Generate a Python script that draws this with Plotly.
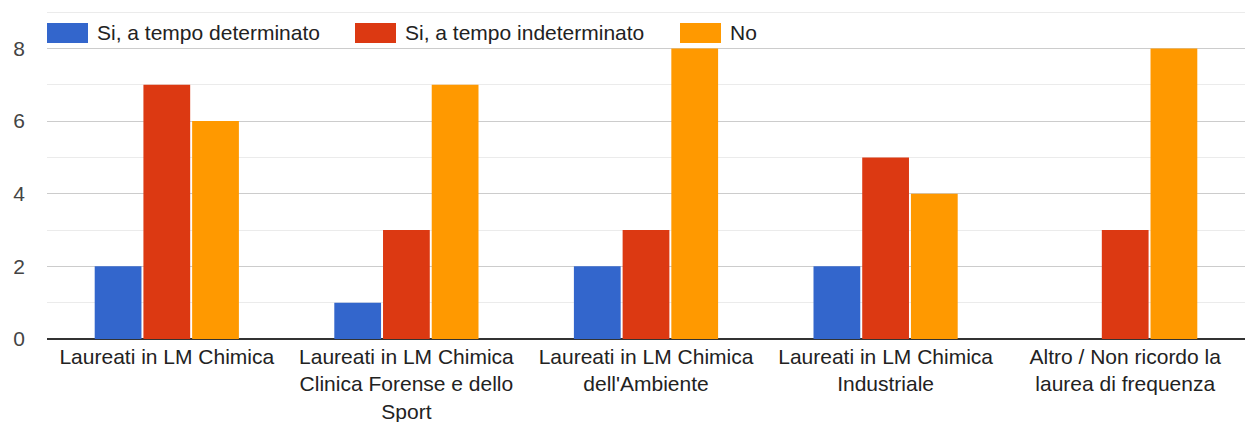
import plotly.graph_objects as go

categories = [
    "Laureati in LM Chimica",
    "Laureati in LM Chimica<br>Clinica Forense e dello<br>Sport",
    "Laureati in LM Chimica<br>dell'Ambiente",
    "Laureati in LM Chimica<br>Industriale",
    "Altro / Non ricordo la<br>laurea di frequenza",
]
series_names = ["Si, a tempo determinato", "Si, a tempo indeterminato", "No"]
determinato = [2, 1, 2, 2, 0]
indeterminato = [7, 3, 3, 5, 3]
no_values = [6, 7, 8, 4, 8]
colors = ["#3366cc", "#dc3912", "#ff9900"]

W, H = 1245, 422
ML, MR, MT, MB = 47, 0, 11, 83
Y_MAX = 9.03
FONT = "Liberation Sans, Arial, sans-serif"
FS = 21

fig = go.Figure()
for name, vals, col in zip(series_names, [determinato, indeterminato, no_values], colors):
    fig.add_trace(go.Bar(
        x=categories, y=vals, name=name,
        marker=dict(color=col, line=dict(width=0)),
        showlegend=False,
    ))

# custom legend across the top of the plot area
plot_w = W - ML - MR
plot_h = H - MT - MB
def px_x(px):
    return (px - ML) / plot_w
def px_y(py):
    return (H - MB - py) / plot_h

legend_x = [47, 355, 680]
shapes = []
annotations = []
for lx, name, col in zip(legend_x, series_names, colors):
    shapes.append(dict(
        type="rect", xref="paper", yref="paper",
        x0=px_x(lx), x1=px_x(lx + 41), y0=px_y(43), y1=px_y(23),
        fillcolor=col, line=dict(width=0), layer="above",
    ))
    annotations.append(dict(
        xref="paper", yref="paper", x=px_x(lx + 48), y=px_y(33),
        text=name, showarrow=False, xanchor="left", yanchor="middle",
        font=dict(family=FONT, size=FS, color="#222222"),
    ))

fig.update_layout(
    width=W, height=H,
    margin=dict(l=ML, r=MR, t=MT, b=MB, pad=0),
    plot_bgcolor="white", paper_bgcolor="white",
    barmode="group", bargap=0.39, bargroupgap=0.04,
    font=dict(family=FONT, size=FS, color="#222222"),
    shapes=shapes, annotations=annotations,
    xaxis=dict(
        showgrid=False, showline=False, ticks="",
        ticklabelstandoff=3,
        tickfont=dict(family=FONT, size=FS, color="#222222"),
        fixedrange=True,
    ),
    yaxis=dict(
        range=[0, Y_MAX], dtick=2, tick0=0,
        gridcolor="#cccccc", gridwidth=1,
        zeroline=True, zerolinecolor="#333333", zerolinewidth=2,
        showline=False, ticks="",
        ticklabelstandoff=21,
        tickfont=dict(family=FONT, size=FS, color="#444444"),
        minor=dict(dtick=1, tick0=0, showgrid=True, gridcolor="#ebebeb", gridwidth=1),
        fixedrange=True,
    ),
)

fig.write_html("out.html")
